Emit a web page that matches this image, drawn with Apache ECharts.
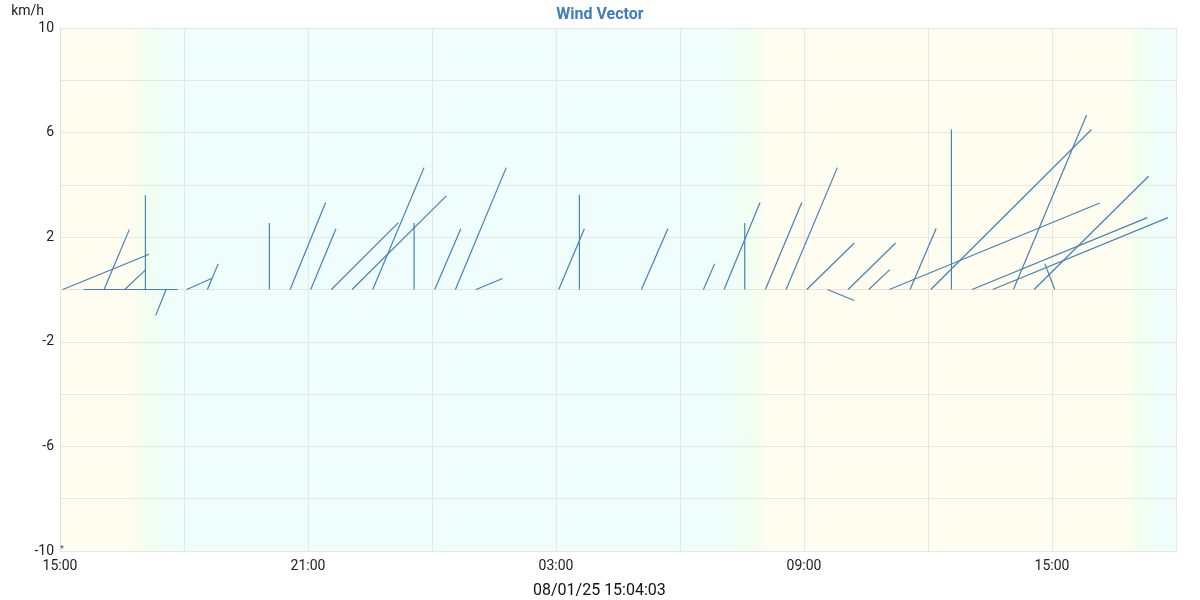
<!DOCTYPE html>
<html>
<head>
<meta charset="utf-8">
<script src="https://cdn.jsdelivr.net/npm/echarts@6/dist/echarts.min.js"></script>
<style>html,body{margin:0;padding:0;background:#fff}#c{width:1200px;height:600px}</style>
</head>
<body>
<div id="c"></div>
<script>
// Observation times (local), starting 08/01/25 15:04; times before 15:00 are on the next day
const obsTimes = ['15:04','15:34','16:04','16:34','17:04','17:34','18:04','18:34','20:04','20:34','21:04','21:34','22:04','22:34','23:34','00:04','00:34','01:04','03:04','03:34','05:04','06:34','07:04','07:34','08:04','08:34','09:04','09:34','10:04','10:34','11:04','11:34','12:04','12:34','13:04','13:34','14:04','14:34','15:04'];
// Wind vector components, km/h (u: east-west, v: north-south)
const windU = [2.09,2.28,0.61,0.51,0,-0.25,0.60,0.26,0,0.86,0.61,1.62,2.28,1.24,0,0.63,1.23,0.64,0.62,0,0.64,0.27,0.87,0,0.88,1.24,1.15,0.65,1.15,0.51,5.09,0.63,3.89,0,4.24,4.24,1.77,2.77,-0.24];
const windV = [1.35,0,2.29,0.76,3.6,-0.99,0.42,0.98,2.54,3.33,2.32,2.56,3.58,4.66,2.54,2.32,4.66,0.42,2.32,3.62,2.32,0.98,3.33,2.54,3.33,4.66,1.78,-0.42,1.78,0.76,3.31,2.33,6.12,6.12,2.75,2.75,6.67,4.33,0.99];
// x axis (hours since 08/01 00:00)
const xMin = 15, xMax = 42, xStep = 3;
const yTickLabels = ['-10','-6','-2','2','6','10'];
// day/night background bands (hours) and colours
const bandHours = [15, 16.62, 17.18, 17.66, 31.03, 31.68, 32.23, 40.79, 41.18, 41.59, 42];
const bandColors = ['#fffdf0','#fffdf0','#f0fff0','#effdfd','#effdfd','#f0fff0','#fffdf0','#fffdf0','#f0fff0','#effdfd','#effdfd'];

const uScale = 1; // hours of x per km/h of u

function toHours(s, i) {
  const p = s.split(':');
  let h = +p[0] + (+p[1]) / 60;
  if (i > 0 && h < 15) h += 24;
  if (i > 0 && h === 15 + 4/60) h += 24;
  return h;
}
const data = obsTimes.map((t, i) => [toHours(t, i), windU[i], windV[i]]);

const stops = bandHours.map((h, i) => ({offset: (h - xMin) / (xMax - xMin), color: bandColors[i]}));

const chart = echarts.init(document.getElementById('c'));
const lineColor = '#4682b4';
chart.setOption({
  animation: false,
  title: {
    text: 'Wind Vector', left: 'center', top: 2,
    textStyle: {fontFamily: 'Roboto', fontSize: 16, fontWeight: 'bold', color: '#3d7fbe'}
  },
  grid: {left: 60, right: 24, top: 28, bottom: 49},
  xAxis: {
    type: 'value', min: xMin, max: xMax, interval: xStep, z: 5,
    axisLine: {show: true, lineStyle: {color: '#e3e3e3'}},
    axisTick: {show: false},
    splitLine: {show: true, lineStyle: {color: '#e6e6e6'}},
    axisLabel: {
      margin: 8, color: '#222', fontFamily: 'Roboto', fontSize: 14,
      formatter: v => ((v - xMin) % 6 === 0) ? String(v % 24).padStart(2, '0') + ':00' : ''
    }
  },
  yAxis: {
    type: 'value', min: -10, max: 10, interval: 2, z: 5,
    name: 'km/h', nameGap: 10,
    nameTextStyle: {align: 'right', padding: [0, 16, 0, 0], color: '#222', fontFamily: 'Roboto', fontSize: 14},
    axisLine: {show: true, lineStyle: {color: '#e3e3e3'}},
    axisTick: {show: false},
    splitLine: {show: true, lineStyle: {color: '#e6e6e6'}},
    axisLabel: {
      margin: 6, color: '#222', fontFamily: 'Roboto', fontSize: 14,
      formatter: v => yTickLabels.indexOf(String(v)) >= 0 ? String(v) : ''
    }
  },
  graphic: [
    {type: 'text', left: 600 - 67, top: 583, z: 10, style: {text: '08/01/25 15:04:03', font: '16px Roboto', fill: '#111'}},
    {type: 'text', left: 60, top: 545, z: 10, style: {text: '*', font: '9px Roboto', fill: '#555'}}
  ],
  series: [{
    type: 'custom',
    data: [],
    z: 1,
    renderItem: function () { return null; },
    markArea: {
      silent: true,
      z: 1,
      data: [[
        {xAxis: xMin, itemStyle: {color: new echarts.graphic.LinearGradient(0, 0, 1, 0, stops)}},
        {xAxis: xMax}
      ]]
    }
  }, {
    type: 'custom',
    data: data,
    encode: {x: 0, y: 2},
    clip: true,
    z: 10,
    renderItem: function (params, api) {
      const t = api.value(0), u = api.value(1), v = api.value(2);
      const p0 = api.coord([t, 0]);
      const p1 = api.coord([t + u * uScale, v]);
      return {type: 'line', shape: {x1: p0[0], y1: p0[1], x2: p1[0], y2: p1[1]},
        style: {stroke: lineColor, lineWidth: 1.2}};
    }
  }]
});
</script>
</body>
</html>
